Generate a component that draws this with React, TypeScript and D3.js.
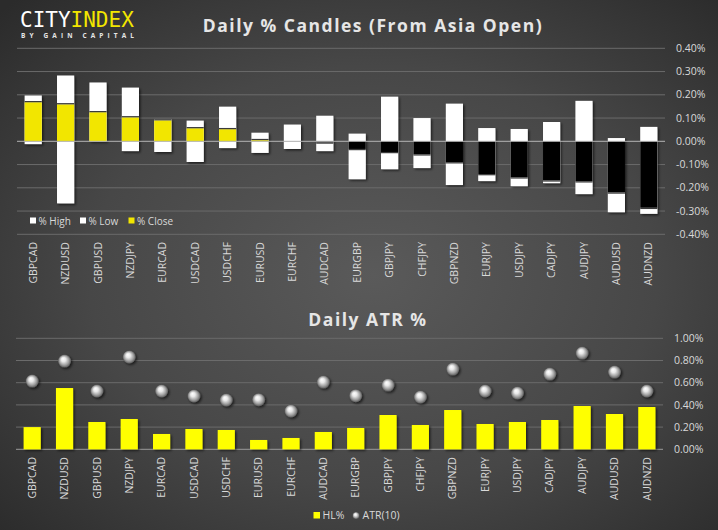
import React from "react";
import * as d3 from "d3";

const W = 718;
const H = 530;

const candlePairs = ["GBPCAD","NZDUSD","GBPUSD","NZDJPY","EURCAD","USDCAD","USDCHF","EURUSD","EURCHF","AUDCAD","EURGBP","GBPJPY","CHFJPY","GBPNZD","EURJPY","USDJPY","CADJPY","AUDJPY","AUDUSD","AUDNZD"];
const highPct = [0.197,0.283,0.253,0.231,0.096,0.089,0.149,0.037,0.072,0.110,0.033,0.192,0.100,0.162,0.057,0.053,0.083,0.174,0.014,0.062];
const lowPct = [-0.012,-0.267,0.0,-0.042,-0.046,-0.089,-0.029,-0.050,-0.033,-0.042,-0.163,-0.120,-0.115,-0.188,-0.171,-0.193,-0.180,-0.227,-0.305,-0.312];
const closePct = [0.168,0.159,0.125,0.103,0.090,0.056,0.052,0.005,0.001,-0.005,-0.033,-0.046,-0.056,-0.090,-0.141,-0.155,-0.168,-0.172,-0.220,-0.286];
const candleTicks = [0.4,0.3,0.2,0.1,0,-0.1,-0.2,-0.3,-0.4];

const atrPairs = ["GBPCAD","NZDUSD","GBPUSD","NZDJPY","EURCAD","USDCAD","USDCHF","EURUSD","EURCHF","AUDCAD","EURGBP","GBPJPY","CHFJPY","GBPNZD","EURJPY","USDJPY","CADJPY","AUDJPY","AUDUSD","AUDNZD"];
const hlPct = [0.200,0.552,0.246,0.273,0.138,0.183,0.174,0.084,0.102,0.156,0.192,0.309,0.219,0.354,0.228,0.246,0.264,0.390,0.318,0.381];
const atr10 = [0.615,0.795,0.525,0.832,0.525,0.480,0.444,0.447,0.345,0.606,0.483,0.579,0.471,0.723,0.525,0.507,0.678,0.867,0.696,0.525];
const atrTicks = [1.0,0.8,0.6,0.4,0.2,0.0];

const FONT = "'Open Sans', 'DejaVu Sans', sans-serif";
const TXT = "#d9d9d9";
const GRID = "#6b6b6b";

export default function App() {
  // top chart scales
  const x1 = d3.scaleBand<string>().domain(candlePairs).range([17, 665]).paddingInner(0.47).paddingOuter(0.235);
  const y1 = d3.scaleLinear().domain([-0.4, 0.4]).range([234.3, 48.3]);
  // bottom chart scales
  const x2 = d3.scaleBand<string>().domain(atrPairs).range([16, 663]).paddingInner(0.47).paddingOuter(0.235);
  const y2 = d3.scaleLinear().domain([0, 1.0]).range([449.3, 338.3]);

  const bw1 = x1.bandwidth();
  const bw2 = x2.bandwidth();
  const fmt = (v: number) => v.toFixed(2) + "%";

  const rect = (x: number, ya: number, yb: number, w: number) => ({
    x,
    y: Math.min(ya, yb),
    width: w,
    height: Math.max(0.01, Math.abs(yb - ya)),
  });

  return (
    <svg width={W} height={H} style={{ display: "block", position: "absolute", left: 0, top: 0 }}>
      <defs>
        <radialGradient id="bg" cx="52%" cy="52%" r="72%">
          <stop offset="0%" stopColor="#5a5a5a" />
          <stop offset="55%" stopColor="#474747" />
          <stop offset="100%" stopColor="#2b2b2b" />
        </radialGradient>
        <filter id="sh" x="-30%" y="-30%" width="160%" height="160%">
          <feDropShadow dx="1.5" dy="1.5" stdDeviation="1.3" floodColor="#000" floodOpacity="0.6" />
        </filter>
        <radialGradient id="ball" cx="50%" cy="50%" r="50%" fx="38%" fy="32%">
          <stop offset="0%" stopColor="#ffffff" />
          <stop offset="35%" stopColor="#e8e8e8" />
          <stop offset="75%" stopColor="#9a9a9a" />
          <stop offset="100%" stopColor="#5a5a5a" />
        </radialGradient>
      </defs>
      <rect x={0} y={0} width={W} height={H} fill="url(#bg)" />

      {/* logo */}
      <text x={20} y={27} fontFamily="'DejaVu Sans Mono', monospace" fontSize={21} fill="#ffffff">
        CITY<tspan fill="#f2e600">INDEX</tspan>
      </text>
      <text x={21} y={37.5} fontFamily={FONT} fontWeight={700} fontSize={6.5} fill="#e6e6e6" textLength={113} lengthAdjust="spacing">
        BY GAIN CAPITAL
      </text>

      {/* ===== Top chart ===== */}
      <text x={373} y={32} textAnchor="middle" fontFamily={FONT} fontWeight={700} fontSize={17.5} fill="#e6e6e6" letterSpacing={1.5}>
        Daily % Candles (From Asia Open)
      </text>
      {candleTicks.map((t) => (
        <g key={"t1" + t}>
          {t !== 0 && <line x1={17} x2={665} y1={y1(t)} y2={y1(t)} stroke={GRID} strokeWidth={1} />}
          <text x={676} y={y1(t)} dy="0.35em" fontFamily={FONT} fontSize={10.5} fill={TXT}>
            {fmt(t)}
          </text>
        </g>
      ))}
      {candlePairs.map((p, i) => {
        const x = x1(p)!;
        const y0 = y1(0);
        const hi = rect(x, y0, y1(highPct[i]), bw1);
        const lo = rect(x, y0, y1(lowPct[i]), bw1);
        const c = closePct[i];
        const cl = rect(x, y0, y1(c), bw1);
        const yc = y1(c);
        return (
          <g key={p}>
            <g filter="url(#sh)">
              {highPct[i] > 0 && <rect {...hi} fill="#ffffff" />}
              {lowPct[i] < 0 && <rect {...lo} fill="#ffffff" />}
            </g>
            {Math.abs(c) > 0.002 && (
              <g>
                <rect {...cl} fill={c > 0 ? "#f2e600" : "#000000"} />
                <line x1={x} x2={x + bw1} y1={c > 0 ? yc - 0.6 : yc + 0.6} y2={c > 0 ? yc - 0.6 : yc + 0.6} stroke="#3a3a3a" strokeWidth={1.3} />
              </g>
            )}
          </g>
        );
      })}
      <line x1={17} x2={665} y1={y1(0)} y2={y1(0)} stroke="#b5b5b5" strokeWidth={1} />
      {/* top legend */}
      <g fontFamily={FONT} fontSize={10} fill={TXT}>
        <rect x={30} y={217.5} width={6} height={6} fill="#ffffff" />
        <text x={38.5} y={224.5}>% High</text>
        <rect x={80} y={217.5} width={6} height={6} fill="#ffffff" />
        <text x={88.5} y={224.5}>% Low</text>
        <rect x={128.5} y={217.5} width={6} height={6} fill="#f2e600" />
        <text x={137} y={224.5}>% Close</text>
      </g>
      {/* top category labels */}
      {candlePairs.map((p) => (
        <text key={"l1" + p} transform={`translate(${x1(p)! + bw1 / 2},242) rotate(-90)`} dy="0.35em" textAnchor="end" fontFamily={FONT} fontSize={10.5} fill={TXT}>
          {p}
        </text>
      ))}

      {/* ===== Bottom chart ===== */}
      <text x={368} y={326} textAnchor="middle" fontFamily={FONT} fontWeight={700} fontSize={17.5} fill="#e6e6e6" letterSpacing={1.5}>
        Daily ATR %
      </text>
      {atrTicks.map((t) => (
        <g key={"t2" + t}>
          <line x1={16} x2={663} y1={y2(t)} y2={y2(t)} stroke={t === 0 ? "#9a9a9a" : GRID} strokeWidth={1} />
          <text x={674} y={y2(t)} dy="0.35em" fontFamily={FONT} fontSize={10.5} fill={TXT}>
            {fmt(t)}
          </text>
        </g>
      ))}
      <g filter="url(#sh)">
        {atrPairs.map((p, i) => (
          <rect key={"b" + p} {...rect(x2(p)!, y2(0), y2(hlPct[i]), bw2)} fill="#ffff00" />
        ))}
      </g>
      <g filter="url(#sh)">
        {atrPairs.map((p, i) => (
          <circle key={"d" + p} cx={x2(p)! + bw2 / 2} cy={y2(atr10[i])} r={6.5} fill="url(#ball)" />
        ))}
      </g>
      {atrPairs.map((p) => (
        <text key={"l2" + p} transform={`translate(${x2(p)! + bw2 / 2},457) rotate(-90)`} dy="0.35em" textAnchor="end" fontFamily={FONT} fontSize={10.5} fill={TXT}>
          {p}
        </text>
      ))}
      {/* bottom legend */}
      <g fontFamily={FONT} fontSize={10.5} fill={TXT}>
        <rect x={313.5} y={512} width={6.5} height={6.5} fill="#ffff00" />
        <text x={322.5} y={519}>HL%</text>
        <circle cx={356} cy={515.5} r={3.5} fill="url(#ball)" />
        <text x={362.5} y={519}>ATR(10)</text>
      </g>
    </svg>
  );
}
